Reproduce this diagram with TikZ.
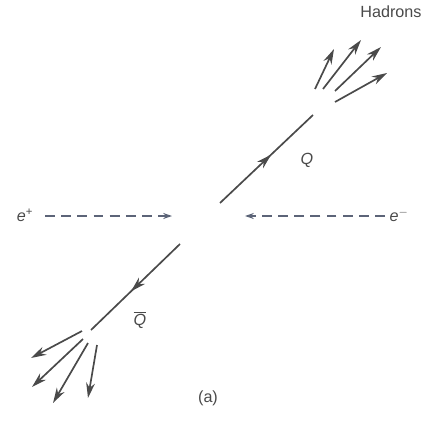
\documentclass[tikz,border=0pt]{standalone}
\usepackage{fontspec}
\setmainfont{Liberation Sans}
\usetikzlibrary{arrows.meta,decorations.markings}
\definecolor{ink}{HTML}{4A4A4A}
\definecolor{beamc}{HTML}{5C6478}
\begin{document}
\begin{tikzpicture}[x=0.025cm,y=0.025cm,
    lbl/.style={font=\fontsize{11.5}{13}\selectfont,text=ink,inner sep=1pt},
    quark/.style={draw=ink,line width=1.2pt,postaction={decorate},
      decoration={markings,mark=at position 0.55 with {\arrow{Stealth[length=3.8mm,width=2.2mm]}}}},
    had/.style={draw=ink,line width=1.2pt,-{Stealth[length=3.8mm,width=2.2mm]}},
    beam/.style={draw=beamc,line width=1.1pt,dash pattern=on 7pt off 4.5pt,
      -{Stealth[length=2.2mm,width=1.5mm]}}
  ]
  \useasboundingbox (0,0) rectangle (426,422);
  %% quark pair
  \coordinate (q0) at (220,219);
  \coordinate (q1) at (313,307);
  \coordinate (b0) at (180,178);
  \coordinate (b1) at (91,92);
  \draw[quark] (q0) -- (q1);
  \draw[quark] (b0) -- (b1);
  \node[lbl] (Q)  at (307,262) {\textit{Q}};
  \node[lbl] (Qb) at (140,102) {$\overline{\mbox{\textit{Q}}}$};
  %% incoming beams
  \node[lbl] (ep) at (25,207) {\textit{e}\textsuperscript{+}};
  \node[lbl] (em) at (399,207) {\textit{e}\textsuperscript{$-$}};
  \coordinate (ep0) at (45,206);
  \coordinate (ep1) at (172,206);
  \coordinate (em0) at (385,206);
  \coordinate (em1) at (245,206);
  \draw[beam] (ep0) -- (ep1);
  \draw[beam] (em0) -- (em1);
  %% hadron jets
  \foreach \n/\x/\y in {u1/315/333,u2/323/333,u3/335/331,u4/335/320,
                        U1/334/373,U2/361/382,U3/381/375,U4/387/349,
                        d1/82/91,d2/83/83,d3/88/79,d4/97/77,
                        D1/31/64,D2/32/35,D3/53/19,D4/88/24}
    \coordinate (\n) at (\x,\y);
  \foreach \i in {1,...,4} {
    \draw[had] (u\i) -- (U\i);
    \draw[had] (d\i) -- (D\i);
  }
  \node[lbl] (hd) at (391,410) {Hadrons};
  \node[lbl] (cap) at (208,24) {(a)};
\end{tikzpicture}
\end{document}
